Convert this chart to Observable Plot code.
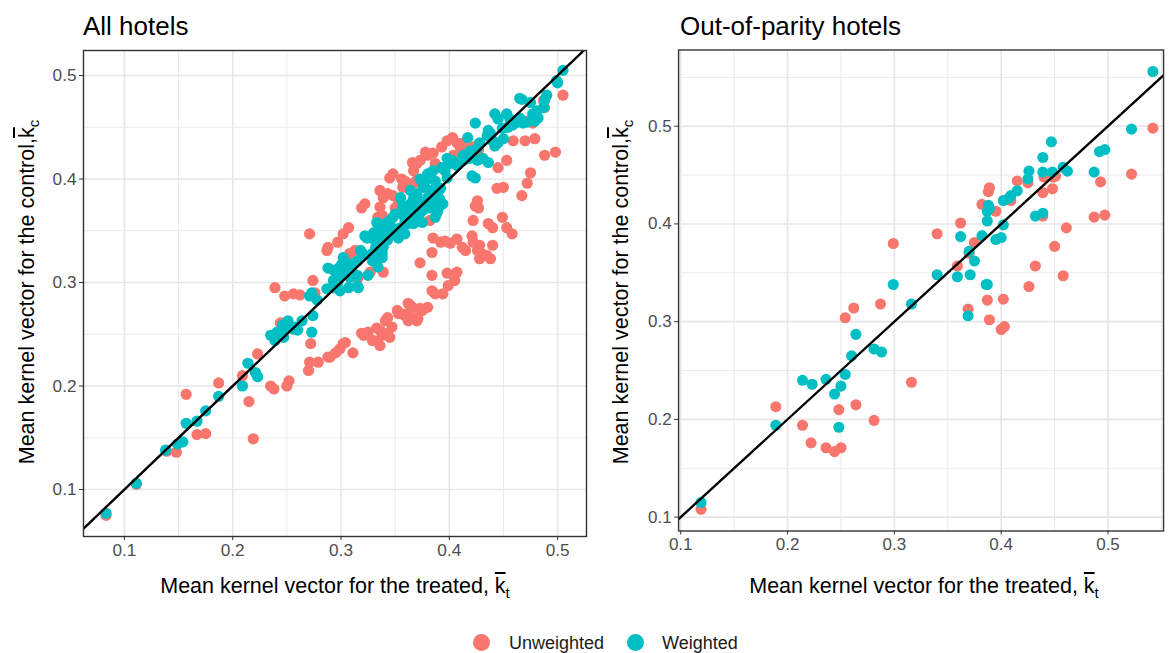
<!DOCTYPE html>
<html>
<head>
<meta charset="utf-8">
<script src="https://cdn.jsdelivr.net/npm/d3@7"></script>
<script src="https://cdn.jsdelivr.net/npm/@observablehq/plot@0.6"></script>
<style>
  html, body { margin: 0; padding: 0; background: #fff; overflow: hidden; }
  #root { position: relative; width: 1169px; height: 653px; overflow: hidden; background: #fff;
          font-family: "Liberation Sans", Arial, sans-serif; color: #000; }
  .plot { position: absolute; top: 0; }
  .title { position: absolute; font-size: 26px; line-height: 26px; white-space: nowrap; }
  .xtitle { position: absolute; font-size: 21.5px; line-height: 22px; white-space: nowrap; transform: translateX(-50%); }
  .ytitle { position: absolute; font-size: 21.5px; line-height: 22px; white-space: nowrap; transform: translate(-50%, -50%) rotate(-90deg); }
  .ov { text-decoration: overline; text-decoration-thickness: 1.5px; }
  .sub { font-size: 0.7em; position: relative; top: 0.3em; }
  .legend { position: absolute; top: 633px; font-size: 18px; line-height: 20px; white-space: nowrap; }
  .key { position: absolute; width: 17px; height: 17px; border-radius: 50%; }
  .ltext { position: absolute; color: #1a1a1a; }
</style>
</head>
<body>
<div id="root">
  <div id="p1" class="plot" style="left:0px"></div>
  <div id="p2" class="plot" style="left:590px"></div>
</div>
<script>
// ---------------- DATA ----------------
const panelTitles = ["All hotels", "Out-of-parity hotels"];
const seriesNames = ["Unweighted", "Weighted"];
const seriesColors = ["#F8766D", "#00BFC4"];
const xTicks = [0.1, 0.2, 0.3, 0.4, 0.5];
const yTicks = [0.1, 0.2, 0.3, 0.4, 0.5];
const minorTicks = [0.05, 0.15, 0.25, 0.35, 0.45, 0.55];
const diagonal = [0, 1]; // y = x reference line

// All hotels: [mean kernel treated, mean kernel control]
const allUnweighted = [
  [0.083,0.075],[0.111,0.105],[0.139,0.137],[0.148,0.136],[0.157,0.192],[0.167,0.153],[0.175,0.154],
  [0.187,0.203],[0.209,0.210],[0.215,0.185],[0.219,0.149],[0.223,0.231],[0.235,0.200],[0.238,0.197],
  [0.250,0.200],[0.252,0.205],[0.244,0.261],[0.272,0.241],
  [0.270,0.215],[0.271,0.223],[0.279,0.223],[0.288,0.228],[0.299,0.236],[0.295,0.232],[0.302,0.241],
  [0.304,0.242],[0.311,0.232],[0.290,0.228],
  [0.239,0.295],[0.248,0.287],[0.256,0.289],[0.262,0.288],[0.274,0.302],[0.276,0.290],[0.271,0.347],
  [0.287,0.331],[0.288,0.334],[0.297,0.339],[0.302,0.347],[0.307,0.353],[0.308,0.328],[0.313,0.331],
  [0.319,0.372],[0.322,0.376],[0.334,0.363],[0.338,0.365],[0.350,0.372],[0.353,0.377],[0.327,0.310],
  [0.339,0.310],[0.316,0.305],[0.373,0.319],
  [0.319,0.251],[0.325,0.252],[0.329,0.244],[0.333,0.256],[0.336,0.254],[0.341,0.263],[0.343,0.251],
  [0.347,0.257],[0.353,0.270],[0.359,0.268],[0.362,0.280],[0.366,0.276],[0.371,0.265],[0.375,0.273],
  [0.384,0.307],[0.398,0.309],[0.407,0.310],[0.405,0.302],[0.399,0.297],[0.394,0.289],[0.387,0.289],
  [0.384,0.292],[0.380,0.276],[0.373,0.275],[0.364,0.278],[0.361,0.270],[0.355,0.270],[0.352,0.273],
  [0.368,0.266],[0.370,0.263],[0.362,0.263],[0.343,0.266],[0.338,0.249],[0.345,0.247],[0.330,0.244],
  [0.336,0.239],[0.321,0.249],
  [0.505,0.481],[0.488,0.469],[0.487,0.476],[0.477,0.454],[0.472,0.456],[0.459,0.437],[0.470,0.437],
  [0.479,0.439],[0.488,0.423],[0.498,0.426],[0.453,0.418],[0.445,0.411],[0.475,0.406],[0.472,0.396],
  [0.467,0.384],[0.450,0.392],[0.444,0.391],[0.426,0.379],[0.424,0.374],[0.422,0.360],[0.427,0.372],
  [0.449,0.363],[0.436,0.357],[0.440,0.353],[0.453,0.353],[0.458,0.347],[0.440,0.336],[0.428,0.336],
  [0.421,0.345],[0.422,0.339],[0.426,0.331],[0.430,0.328],[0.435,0.326],[0.438,0.323],[0.428,0.323],
  [0.415,0.331],[0.412,0.334],[0.385,0.343],[0.392,0.339],[0.401,0.338],[0.407,0.342],[0.396,0.340],
  [0.384,0.329],[0.382,0.360],
  [0.345,0.401],[0.348,0.405],[0.356,0.400],[0.359,0.398],[0.367,0.396],[0.370,0.399],[0.366,0.416],
  [0.370,0.415],[0.367,0.408],[0.373,0.418],[0.378,0.426],[0.380,0.423],[0.385,0.425],[0.387,0.415],
  [0.390,0.411],[0.393,0.431],[0.398,0.437],[0.403,0.440],[0.407,0.435],[0.413,0.435],[0.410,0.431],
  [0.422,0.431],[0.427,0.428],[0.404,0.423],[0.336,0.389],[0.339,0.382],[0.343,0.386],[0.348,0.384],
  [0.352,0.373],[0.336,0.373],[0.357,0.392]
];
const allWeighted = [
  [0.083,0.077],[0.111,0.106],[0.138,0.138],[0.149,0.144],[0.154,0.146],[0.157,0.164],[0.167,0.166],
  [0.175,0.176],[0.187,0.190],[0.209,0.200],[0.214,0.222],[0.221,0.213],[0.223,0.209],[0.235,0.249],
  [0.239,0.244],[0.244,0.251],[0.251,0.263],[0.248,0.256],[0.256,0.255],[0.260,0.254],[0.273,0.252],
  [0.271,0.287],[0.278,0.283],[0.274,0.268],[0.287,0.294],[0.296,0.302],
  [0.241,0.252],[0.246,0.259],[0.258,0.257],[0.264,0.263],[0.247,0.247],[0.273,0.290],[0.292,0.295],
  [0.297,0.300],[0.296,0.305],[0.299,0.292],[0.288,0.314],[0.301,0.318],[0.302,0.315],[0.306,0.312],
  [0.310,0.316],[0.308,0.305],[0.315,0.307],[0.316,0.295],[0.322,0.345],[0.320,0.328],[0.329,0.328],
  [0.332,0.334],[0.333,0.321],[0.338,0.324],[0.325,0.307],[0.334,0.350],[0.338,0.353],[0.341,0.347],
  [0.343,0.341],[0.350,0.347],[0.353,0.343],[0.356,0.353],[0.359,0.360],[0.362,0.367],[0.366,0.370],
  [0.370,0.372],[0.373,0.367],[0.375,0.376],[0.333,0.358],[0.329,0.321],[0.334,0.315],
  [0.293,0.302],[0.299,0.307],[0.305,0.309],[0.315,0.297],[0.309,0.312],
  [0.500,0.493],[0.490,0.481],[0.488,0.476],[0.487,0.469],[0.481,0.466],[0.477,0.463],[0.482,0.459],
  [0.479,0.456],[0.472,0.455],[0.468,0.454],[0.465,0.478],[0.442,0.463],[0.445,0.458],[0.453,0.463],
  [0.456,0.458],[0.458,0.452],[0.461,0.454],[0.463,0.457],[0.465,0.459],[0.454,0.450],[0.424,0.454],
  [0.436,0.447],[0.435,0.442],[0.440,0.437],[0.445,0.435],[0.450,0.439],[0.442,0.432],[0.428,0.435],
  [0.426,0.430],[0.417,0.440],[0.398,0.420],[0.401,0.415],[0.403,0.418],[0.407,0.413],[0.413,0.418],
  [0.419,0.420],[0.426,0.418],[0.431,0.420],[0.436,0.416],[0.421,0.403],[0.424,0.401],[0.396,0.408],
  [0.398,0.401],[0.373,0.400],[0.376,0.392],[0.382,0.389],[0.385,0.384],[0.390,0.389],[0.391,0.381],
  [0.394,0.376],[0.390,0.372],[0.385,0.374],[0.380,0.382],[0.370,0.384],[0.367,0.381],[0.364,0.376],
  [0.357,0.374],[0.355,0.367],[0.348,0.363],[0.345,0.360],[0.341,0.357],[0.339,0.353],[0.343,0.350],
  [0.347,0.353],[0.353,0.352],[0.359,0.347],[0.362,0.357],[0.366,0.363],[0.370,0.367],[0.376,0.370],
  [0.382,0.372],[0.389,0.368],[0.387,0.363],[0.375,0.358],[0.367,0.357],[0.336,0.341],[0.339,0.334],
  [0.338,0.328],
  [0.505,0.505],[0.499,0.495],[0.467,0.477],[0.475,0.474],[0.449,0.449],[0.438,0.444],[0.419,0.427],
  [0.413,0.423],[0.393,0.411],[0.385,0.408],[0.380,0.405],[0.378,0.398],[0.387,0.398],[0.392,0.391],
  [0.364,0.389],[0.370,0.386],[0.355,0.382],[0.350,0.366],[0.330,0.348],[0.324,0.343],[0.331,0.341],
  [0.318,0.331],[0.302,0.324],[0.299,0.315],[0.293,0.312],[0.308,0.318],[0.315,0.321],[0.307,0.295]
];

// Out-of-parity hotels
const oopUnweighted = [
  [0.119,0.108],[0.189,0.213],[0.214,0.194],[0.222,0.176],[0.236,0.171],[0.244,0.167],[0.250,0.171],
  [0.248,0.210],[0.264,0.215],[0.254,0.304],[0.262,0.314],[0.281,0.199],[0.287,0.318],[0.299,0.380],
  [0.316,0.238],[0.542,0.498],[0.522,0.451],[0.493,0.443],[0.487,0.407],[0.497,0.409],[0.440,0.448],
  [0.449,0.448],[0.439,0.432],[0.448,0.436],[0.451,0.449],[0.461,0.396],[0.450,0.377],[0.432,0.357],
  [0.458,0.347],[0.426,0.336],[0.415,0.444],[0.425,0.442],[0.409,0.424],[0.388,0.433],[0.389,0.437],
  [0.382,0.420],[0.395,0.413],[0.439,0.408],[0.362,0.401],[0.340,0.390],[0.375,0.381],[0.370,0.370],
  [0.359,0.357],[0.369,0.313],[0.387,0.322],[0.402,0.323],[0.389,0.302],[0.400,0.292],[0.403,0.295]
];
const oopWeighted = [
  [0.119,0.115],[0.189,0.194],[0.214,0.240],[0.223,0.236],[0.236,0.241],[0.244,0.226],[0.250,0.234],
  [0.254,0.246],[0.248,0.192],[0.260,0.265],[0.264,0.287],[0.281,0.272],[0.288,0.269],[0.299,0.338],
  [0.316,0.318],[0.542,0.556],[0.522,0.497],[0.492,0.474],[0.497,0.476],[0.487,0.453],[0.447,0.484],
  [0.439,0.468],[0.439,0.453],[0.448,0.453],[0.458,0.458],[0.462,0.454],[0.426,0.454],[0.425,0.446],
  [0.415,0.434],[0.409,0.429],[0.402,0.424],[0.407,0.426],[0.388,0.419],[0.389,0.416],[0.387,0.413],
  [0.387,0.403],[0.402,0.399],[0.432,0.408],[0.439,0.411],[0.362,0.387],[0.382,0.388],[0.370,0.372],
  [0.395,0.384],[0.400,0.386],[0.375,0.362],[0.340,0.348],[0.359,0.346],[0.371,0.348],[0.387,0.338],
  [0.369,0.306],[0.386,0.338]
];

// ---------------- DRAWING ----------------
function panel({unweighted, weighted, xDomain, yDomain, width, marginLeft, marginRight}) {
  const gridMinor = {stroke: "#ebebeb", strokeOpacity: 1, strokeWidth: 1};
  const gridMajor = {stroke: "#e6e6e6", strokeOpacity: 1, strokeWidth: 1.6};
  const inX = t => t > xDomain[0] && t < xDomain[1];
  const inY = t => t > yDomain[0] && t < yDomain[1];
  return Plot.plot({
    width, height: 600,
    marginLeft, marginRight, marginTop: 50, marginBottom: 64,
    style: {fontFamily: '"Liberation Sans", Arial, sans-serif', fontSize: "17.2px", color: "#4d4d4d", background: "transparent", overflow: "visible"},
    x: {domain: xDomain},
    y: {domain: yDomain},
    marks: [
      Plot.gridX(minorTicks.filter(inX), gridMinor),
      Plot.gridY(minorTicks.filter(inY), gridMinor),
      Plot.gridX(xTicks.filter(inX), gridMajor),
      Plot.gridY(yTicks.filter(inY), gridMajor),
      Plot.dot(unweighted, {x: d => d[0], y: d => d[1], r: 5.6, fill: seriesColors[0], stroke: null}),
      Plot.dot(weighted, {x: d => d[0], y: d => d[1], r: 5.6, fill: seriesColors[1], stroke: null}),
      Plot.line(diagonal, {x: d => d, y: d => d, stroke: "#000", strokeWidth: 2.4, clip: true}),
      Plot.frame({stroke: "#333", strokeWidth: 1.4}),
      Plot.axisX(xTicks, {tickFormat: d3.format(".1f"), label: null, tickSize: 4, tickPadding: 3, stroke: "#333"}),
      Plot.axisY(yTicks, {tickFormat: d3.format(".1f"), label: null, tickSize: 4, tickPadding: 3, stroke: "#333"})
    ]
  });
}

document.getElementById("p1").appendChild(panel({
  unweighted: allUnweighted, weighted: allWeighted,
  xDomain: [0.0622, 0.5267], yDomain: [0.0546, 0.5242],
  width: 600, marginLeft: 83, marginRight: 14
}));
document.getElementById("p2").appendChild(panel({
  unweighted: oopUnweighted, weighted: oopWeighted,
  xDomain: [0.098, 0.552], yDomain: [0.0858, 0.578],
  width: 585, marginLeft: 89, marginRight: 6
}));

const root = document.getElementById("root");
function addHTML(html) { root.insertAdjacentHTML("beforeend", html); }

// panel titles
addHTML(`<div class="title" style="left:83px;top:13px">${panelTitles[0]}</div>`);
addHTML(`<div class="title" style="left:680px;top:13px">${panelTitles[1]}</div>`);

// axis titles
const xTitle = `Mean kernel vector for the treated, <span class="ov">k</span><span class="sub">t</span>`;
const yTitle = `Mean kernel vector for the control,<span class="ov">k</span><span class="sub">c</span>`;
addHTML(`<div class="xtitle" style="left:335px;top:575px">${xTitle}</div>`);
addHTML(`<div class="xtitle" style="left:924px;top:575px">${xTitle}</div>`);
addHTML(`<div class="ytitle" style="left:28px;top:292px">${yTitle}</div>`);
addHTML(`<div class="ytitle" style="left:622px;top:292px">${yTitle}</div>`);

// legend
const keyX = [481, 635], textX = [509, 662];
seriesNames.forEach((name, i) => {
  addHTML(`<div class="key" style="left:${keyX[i] - 8.5}px;top:${642 - 8.5}px;background:${seriesColors[i]}"></div>`);
  addHTML(`<div class="legend ltext" style="left:${textX[i]}px">${name}</div>`);
});
</script>
</body>
</html>
